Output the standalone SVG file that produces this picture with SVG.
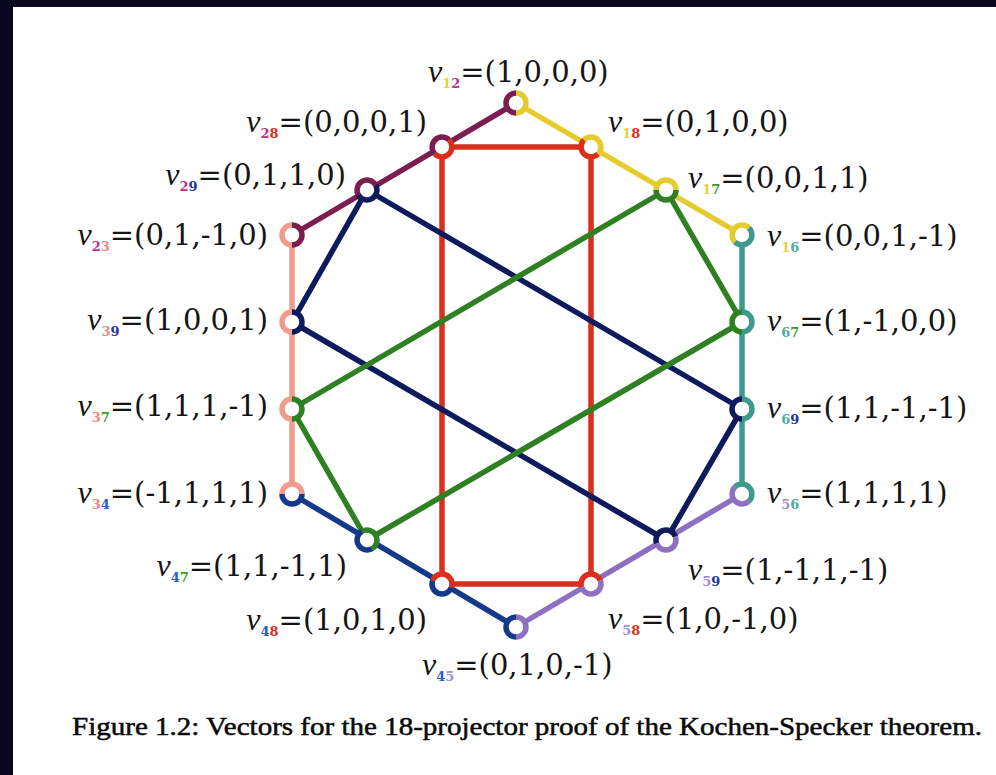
<svg xmlns="http://www.w3.org/2000/svg" width="996" height="775" viewBox="0 0 996 775">
<style>
.ln{fill:none;stroke-width:5.5;stroke-linecap:round;stroke-linejoin:round}
.hc{fill:none;stroke-width:5.5}
.dot{fill:#fff;stroke:none}
.Y{stroke:#e5cc2e}.M{stroke:#7b1d4f}.P{stroke:#ef9c8c}.T{stroke:#3e9a8c}.B{stroke:#14388a}
.U{stroke:#8e70c2}.R{stroke:#d9301d}.N{stroke:#0d1a5c}.G{stroke:#2f7f23}
.lbl{font-family:"DejaVu Serif","Liberation Serif",serif;font-size:29px;fill:#151515}
.v{font-family:"Liberation Serif",serif;font-style:italic;font-size:32px}
.s{font-size:13px;font-weight:bold}
.c1{fill:#e2d43a}.c2{fill:#b8308a}.c3{fill:#f08a80}.c4{fill:#2a5cc8}.c5{fill:#a58ee0}
.c6{fill:#4aaea0}.c7{fill:#3a9a2a}.c8{fill:#e03020}.c9{fill:#23349a}
.cap{font-family:"Liberation Serif","DejaVu Serif",serif;font-size:25px;fill:#0a0a0a;stroke:#0a0a0a;stroke-width:0.5}
</style>
<rect x="0" y="0" width="996" height="775" fill="#08071f"/>
<rect x="13" y="7" width="983" height="768" fill="#ffffff"/>

<g id="connectors">
<path class="ln Y" d="M516 103 L742 235"/>
<path class="ln M" d="M516 103 L292 235"/>
<path class="ln P" d="M292 235 V494"/>
<path class="ln T" d="M742 235 V494"/>
<path class="ln B" d="M292 494 L516 627"/>
<path class="ln U" d="M516 627 L742 494"/>
<path class="ln R" d="M442 147 H591 V584 H442 Z"/>
<path class="ln N" d="M367 190 L292 322 M367 190 L742 409 M292 322 L666 540 M742 409 L666 540"/>
<path class="ln G" d="M666 190 L742 322 M666 190 L292 409 M742 322 L367 540 M292 409 L367 540"/>
</g>

<g id="v12">
<circle class="dot" cx="516" cy="103" r="10"/>
<path class="hc M" d="M516 113 A10 10 0 0 1 516 93"/>
<path class="hc Y" d="M516 93 A10 10 0 0 1 516 113"/>
<text class="lbl" x="428" y="82"><tspan class="v">v</tspan><tspan class="s c1" dy="6">1</tspan><tspan class="s c2">2</tspan><tspan dy="-6">=(1,0,0,0)</tspan></text>
</g>
<g id="v28">
<circle class="dot" cx="442" cy="147" r="10"/>
<path class="hc M" d="M434.93 154.07 A10 10 0 0 1 449.07 139.93"/>
<path class="hc R" d="M449.07 139.93 A10 10 0 0 1 434.93 154.07"/>
<text class="lbl" x="427" y="132" text-anchor="end"><tspan class="v">v</tspan><tspan class="s c2" dy="6">2</tspan><tspan class="s c8">8</tspan><tspan dy="-6">=(0,0,0,1)</tspan></text>
</g>
<g id="v18">
<circle class="dot" cx="591" cy="147" r="10"/>
<path class="hc Y" d="M583.93 139.93 A10 10 0 0 1 598.07 154.07"/>
<path class="hc R" d="M598.07 154.07 A10 10 0 0 1 583.93 139.93"/>
<text class="lbl" x="608" y="132"><tspan class="v">v</tspan><tspan class="s c1" dy="6">1</tspan><tspan class="s c8">8</tspan><tspan dy="-6">=(0,1,0,0)</tspan></text>
</g>
<g id="v29">
<circle class="dot" cx="367" cy="190" r="10"/>
<path class="hc M" d="M358.34 195 A10 10 0 0 1 375.66 185"/>
<path class="hc N" d="M375.66 185 A10 10 0 0 1 358.34 195"/>
<text class="lbl" x="346" y="185" text-anchor="end"><tspan class="v">v</tspan><tspan class="s c2" dy="6">2</tspan><tspan class="s c9">9</tspan><tspan dy="-6">=(0,1,1,0)</tspan></text>
</g>
<g id="v17">
<circle class="dot" cx="666" cy="190" r="10"/>
<path class="hc Y" d="M656 190 A10 10 0 0 1 676 190"/>
<path class="hc G" d="M676 190 A10 10 0 0 1 656 190"/>
<text class="lbl" x="688" y="188"><tspan class="v">v</tspan><tspan class="s c1" dy="6">1</tspan><tspan class="s c7">7</tspan><tspan dy="-6">=(0,0,1,1)</tspan></text>
</g>
<g id="v23">
<circle class="dot" cx="292" cy="235" r="10"/>
<path class="hc P" d="M292 245 A10 10 0 0 1 292 225"/>
<path class="hc M" d="M292 225 A10 10 0 0 1 292 245"/>
<text class="lbl" x="268" y="245" text-anchor="end"><tspan class="v">v</tspan><tspan class="s c2" dy="6">2</tspan><tspan class="s c3">3</tspan><tspan dy="-6">=(0,1,-1,0)</tspan></text>
</g>
<g id="v16">
<circle class="dot" cx="742" cy="235" r="10"/>
<path class="hc Y" d="M734.93 242.07 A10 10 0 0 1 749.07 227.93"/>
<path class="hc T" d="M749.07 227.93 A10 10 0 0 1 734.93 242.07"/>
<text class="lbl" x="767" y="246"><tspan class="v">v</tspan><tspan class="s c1" dy="6">1</tspan><tspan class="s c6">6</tspan><tspan dy="-6">=(0,0,1,-1)</tspan></text>
</g>
<g id="v39">
<circle class="dot" cx="292" cy="322" r="10"/>
<path class="hc P" d="M292 332 A10 10 0 0 1 292 312"/>
<path class="hc N" d="M292 312 A10 10 0 0 1 292 332"/>
<text class="lbl" x="268" y="330" text-anchor="end"><tspan class="v">v</tspan><tspan class="s c3" dy="6">3</tspan><tspan class="s c9">9</tspan><tspan dy="-6">=(1,0,0,1)</tspan></text>
</g>
<g id="v67">
<circle class="dot" cx="742" cy="322" r="10"/>
<path class="hc G" d="M742 332 A10 10 0 0 1 742 312"/>
<path class="hc T" d="M742 312 A10 10 0 0 1 742 332"/>
<text class="lbl" x="767" y="331"><tspan class="v">v</tspan><tspan class="s c6" dy="6">6</tspan><tspan class="s c7">7</tspan><tspan dy="-6">=(1,-1,0,0)</tspan></text>
</g>
<g id="v37">
<circle class="dot" cx="292" cy="409" r="10"/>
<path class="hc P" d="M292 419 A10 10 0 0 1 292 399"/>
<path class="hc G" d="M292 399 A10 10 0 0 1 292 419"/>
<text class="lbl" x="268" y="416" text-anchor="end"><tspan class="v">v</tspan><tspan class="s c3" dy="6">3</tspan><tspan class="s c7">7</tspan><tspan dy="-6">=(1,1,1,-1)</tspan></text>
</g>
<g id="v69">
<circle class="dot" cx="742" cy="409" r="10"/>
<path class="hc N" d="M742 419 A10 10 0 0 1 742 399"/>
<path class="hc T" d="M742 399 A10 10 0 0 1 742 419"/>
<text class="lbl" x="767" y="418"><tspan class="v">v</tspan><tspan class="s c6" dy="6">6</tspan><tspan class="s c9">9</tspan><tspan dy="-6">=(1,1,-1,-1)</tspan></text>
</g>
<g id="v34">
<circle class="dot" cx="292" cy="494" r="10"/>
<path class="hc P" d="M282 494 A10 10 0 0 1 302 494"/>
<path class="hc B" d="M302 494 A10 10 0 0 1 282 494"/>
<text class="lbl" x="268" y="503" text-anchor="end"><tspan class="v">v</tspan><tspan class="s c3" dy="6">3</tspan><tspan class="s c4">4</tspan><tspan dy="-6">=(-1,1,1,1)</tspan></text>
</g>
<g id="v56">
<circle class="dot" cx="742" cy="494" r="10"/>
<path class="hc T" d="M734.93 486.93 A10 10 0 0 1 749.07 501.07"/>
<path class="hc U" d="M749.07 501.07 A10 10 0 0 1 734.93 486.93"/>
<text class="lbl" x="767" y="503"><tspan class="v">v</tspan><tspan class="s c5" dy="6">5</tspan><tspan class="s c6">6</tspan><tspan dy="-6">=(1,1,1,1)</tspan></text>
</g>
<g id="v47">
<circle class="dot" cx="367" cy="540" r="10"/>
<path class="hc G" d="M362 531.34 A10 10 0 0 1 372 548.66"/>
<path class="hc B" d="M372 548.66 A10 10 0 0 1 362 531.34"/>
<text class="lbl" x="347" y="576" text-anchor="end"><tspan class="v">v</tspan><tspan class="s c4" dy="6">4</tspan><tspan class="s c7">7</tspan><tspan dy="-6">=(1,1,-1,1)</tspan></text>
</g>
<g id="v59">
<circle class="dot" cx="666" cy="540" r="10"/>
<path class="hc N" d="M656.6 543.42 A10 10 0 0 1 675.4 536.58"/>
<path class="hc U" d="M675.4 536.58 A10 10 0 0 1 656.6 543.42"/>
<text class="lbl" x="688" y="580"><tspan class="v">v</tspan><tspan class="s c5" dy="6">5</tspan><tspan class="s c9">9</tspan><tspan dy="-6">=(1,-1,1,-1)</tspan></text>
</g>
<g id="v48">
<circle class="dot" cx="442" cy="584" r="10"/>
<path class="hc R" d="M432.6 580.58 A10 10 0 0 1 451.4 587.42"/>
<path class="hc B" d="M451.4 587.42 A10 10 0 0 1 432.6 580.58"/>
<text class="lbl" x="427" y="630" text-anchor="end"><tspan class="v">v</tspan><tspan class="s c4" dy="6">4</tspan><tspan class="s c8">8</tspan><tspan dy="-6">=(1,0,1,0)</tspan></text>
</g>
<g id="v58">
<circle class="dot" cx="591" cy="584" r="10"/>
<path class="hc R" d="M581.6 587.42 A10 10 0 0 1 600.4 580.58"/>
<path class="hc U" d="M600.4 580.58 A10 10 0 0 1 581.6 587.42"/>
<text class="lbl" x="608" y="629"><tspan class="v">v</tspan><tspan class="s c5" dy="6">5</tspan><tspan class="s c8">8</tspan><tspan dy="-6">=(1,0,-1,0)</tspan></text>
</g>
<g id="v45">
<circle class="dot" cx="516" cy="627" r="10"/>
<path class="hc B" d="M516 637 A10 10 0 0 1 516 617"/>
<path class="hc U" d="M516 617 A10 10 0 0 1 516 637"/>
<text class="lbl" x="422" y="675"><tspan class="v">v</tspan><tspan class="s c4" dy="6">4</tspan><tspan class="s c5">5</tspan><tspan dy="-6">=(0,1,0,-1)</tspan></text>
</g>

<text class="cap" x="72" y="735" textLength="910" lengthAdjust="spacingAndGlyphs">Figure 1.2: Vectors for the 18-projector proof of the Kochen-Specker theorem.</text>
</svg>
